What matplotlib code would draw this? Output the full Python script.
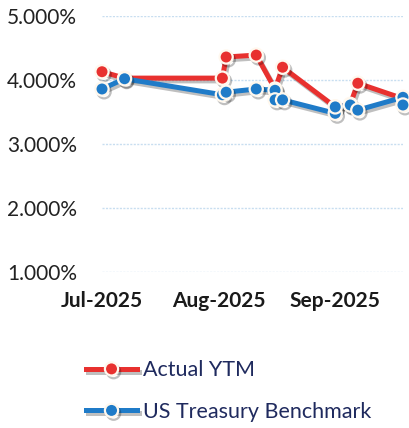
import matplotlib
matplotlib.use("Agg")
import matplotlib.pyplot as plt
import matplotlib.patheffects as pe
import pandas as pd

plt.rcParams.update({
    "font.family": ["Lato", "DejaVu Sans"],
})

# data
ytm_dates = ["2025-07-01", "2025-07-07", "2025-08-02", "2025-08-03", "2025-08-11",
             "2025-08-16", "2025-08-18", "2025-09-01", "2025-09-05", "2025-09-07",
             "2025-09-19"]
ytm_vals = [4.13, 4.03, 4.03, 4.36, 4.39, 3.86, 4.20, 3.58, 3.62, 3.95, 3.71]

ust_dates = ["2025-07-01", "2025-07-07", "2025-08-02", "2025-08-03", "2025-08-11",
             "2025-08-16", "2025-08-16", "2025-08-18", "2025-09-01", "2025-09-01",
             "2025-09-05", "2025-09-07", "2025-09-19", "2025-09-19"]
ust_vals = [3.86, 4.02, 3.77, 3.81, 3.86, 3.84, 3.69, 3.69, 3.48, 3.58,
            3.61, 3.53, 3.73, 3.61]

yticks = [1, 2, 3, 4, 5]
month_ticks = ["2025-07-01", "2025-08-01", "2025-09-01"]
month_labels = ["Jul-2025", "Aug-2025", "Sep-2025"]

red = "#E8312F"
blue = "#1F7BC8"

fig = plt.figure(figsize=(4.1, 4.28), dpi=100)
ax = fig.add_axes([0.2488, 0.3645, 0.734, 0.598])

shadow = [pe.SimpleLineShadow(offset=(1.5, -2), alpha=0.25), pe.Normal()]

ax.plot(pd.to_datetime(ytm_dates), ytm_vals, color=red, lw=3.6, marker="o",
        ms=9.5, mec="#FFF8EE", mew=1.6, label="Actual YTM", clip_on=False,
        zorder=3, path_effects=shadow)
ax.plot(pd.to_datetime(ust_dates), ust_vals, color=blue, lw=3.6, marker="o",
        ms=9.5, mec="#FFF8EE", mew=1.6, label="US Treasury Benchmark",
        clip_on=False, zorder=4, path_effects=shadow)

ax.set_ylim(1, 5)
ax.set_xlim(pd.Timestamp("2025-07-01"), pd.Timestamp("2025-09-19"))
ax.set_yticks(yticks)
ax.set_yticklabels([f"{v:.3f}%" for v in yticks])
ax.set_xticks(pd.to_datetime(month_ticks))
ax.set_xticklabels(month_labels, fontweight="bold")
ax.grid(axis="y", color="#C8DEF0", linestyle=(0, (1.5, 1)), linewidth=1)
ax.grid(axis="x", visible=False)
for s in ax.spines.values():
    s.set_visible(False)
ax.tick_params(axis="y", length=0, pad=18, labelsize=15, labelcolor="#222222")
ax.tick_params(axis="x", length=0, pad=14, labelsize=15, labelcolor="#1a1a1a")

fig.legend(loc="upper left", bbox_to_anchor=(0.188, 0.178), frameon=False,
           fontsize=15.5, labelcolor="#1F2A5E", handlelength=2.4,
           handletextpad=0.25, labelspacing=1.0, borderaxespad=0)

fig.savefig("out.png", dpi=100)
